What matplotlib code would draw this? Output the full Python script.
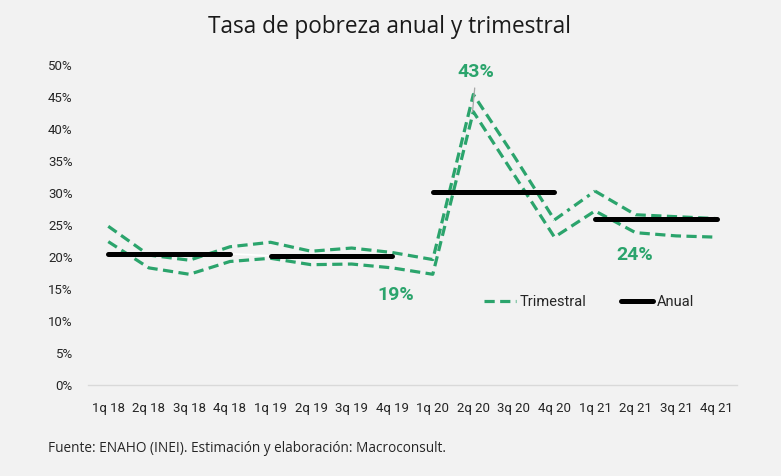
import matplotlib
matplotlib.use("Agg")
import matplotlib.pyplot as plt
import numpy as np

# ---- data ----
quarters = ["1q 18", "2q 18", "3q 18", "4q 18", "1q 19", "2q 19", "3q 19", "4q 19",
            "1q 20", "2q 20", "3q 20", "4q 20", "1q 21", "2q 21", "3q 21", "4q 21"]
trim_upper = [24.8, 20.3, 19.5, 21.6, 22.3, 20.9, 21.4, 20.7,
              19.6, 45.4, 35.8, 25.8, 30.3, 26.6, 26.3, 26.0]
trim_lower = [22.4, 18.3, 17.3, 19.3, 19.8, 18.8, 18.9, 18.3,
              17.3, 42.7, 32.9, 23.1, 27.2, 23.8, 23.3, 23.1]
annual_years = ["2018", "2019", "2020", "2021"]
annual_values = [20.5, 20.2, 30.1, 25.9]
labels_text = ["43%", "19%", "24%"]
labels_idx = [9, 7, 13]
labels_y = [48.9, 14.1, 20.3]

GREEN = "#2BA46C"
BG = "#F2F2F2"
TITLE_FONT = ['Open Sans', 'DejaVu Sans']

plt.rcParams['font.family'] = ['Roboto', 'DejaVu Sans']

fig = plt.figure(figsize=(7.81, 4.76), dpi=100, facecolor=BG)
ax = fig.add_axes([88/781, 1-385/476, (737-88)/781, (385-65)/476])
ax.set_facecolor(BG)

x = np.arange(len(quarters))
up = np.array(trim_upper) / 100
lo = np.array(trim_lower) / 100

dash = dict(color=GREEN, lw=2.3, dashes=(3.2, 1.7), solid_capstyle='butt', dash_capstyle='butt')
# upper line, with the 4q20-1q21 segment drawn dash-dot
ax.plot(x[:12], up[:12], **dash, label="Trimestral")
ax.plot(x[11:13], up[11:13], color=GREEN, lw=2.3, dashes=(3.2, 1.7, 1.0, 1.7))
ax.plot(x[12:], up[12:], **dash)
ax.plot(x, lo, **dash)

# annual lines
for i, v in enumerate(annual_values):
    xs = x[4*i:4*i+4]
    ax.plot([xs[0], xs[-1]], [v/100, v/100], color="black", lw=3.6,
            solid_capstyle='round', label="Anual" if i == 0 else None, zorder=3)
# faint white connector between 2018 and 2019
ax.plot([x[3], x[4]], [annual_values[0]/100, annual_values[1]/100], color="white", lw=1.2, zorder=2)

# labels
for t, i, yv in zip(labels_text, labels_idx, labels_y):
    if t == "43%":
        ax.annotate(t, xy=(x[i] - 0.02, lo[i]), xytext=(x[i] + 0.07, yv/100),
                    ha='center', va='center', color=GREEN, fontsize=14, fontweight='bold',
                    arrowprops=dict(arrowstyle='-', color='#A6A6A6', lw=0.9, shrinkA=3, shrinkB=0),
                    zorder=4)
    else:
        ax.text(x[i] + (0.08 if t == "19%" else -0.03), yv/100, t, ha='center', va='center',
                color=GREEN, fontsize=14, fontweight='bold')

ax.set_xlim(-0.5, len(quarters) - 0.5)
ax.set_ylim(0, 0.5)
ax.set_yticks(np.arange(0, 0.51, 0.05))
ax.set_yticklabels([f"{int(round(v*100))}%" for v in np.arange(0, 0.51, 0.05)])
ax.set_xticks(x)
ax.set_xticklabels(quarters)
ax.tick_params(axis='both', length=0, labelsize=9.5, colors='#262626')
ax.tick_params(axis='y', pad=11)
ax.tick_params(axis='x', pad=12)
for s in ['top', 'right', 'left']:
    ax.spines[s].set_visible(False)
ax.spines['bottom'].set_color('#D9D9D9')
ax.spines['bottom'].set_linewidth(1.0)

leg = ax.legend(loc='center', frameon=False, ncol=2, fontsize=10.5, handlelength=2.2,
                handletextpad=0.25, columnspacing=2.4,
                bbox_to_anchor=(589/781, 1 - 302/476), bbox_transform=fig.transFigure)
for t in leg.get_texts():
    t.set_color('#262626')

fig.text(390/781, 1 - 27/476, "Tasa de pobreza anual y trimestral", ha='center', va='center',
         fontsize=16.3, color='#1a1a1a', family=TITLE_FONT)
fig.text(48/781, 1 - 448/476, "Fuente: ENAHO (INEI). Estimación y elaboración: Macroconsult.",
         ha='left', va='center', fontsize=9.8, color='#262626', family=TITLE_FONT)

fig.savefig("out.png", dpi=100, facecolor=BG)
